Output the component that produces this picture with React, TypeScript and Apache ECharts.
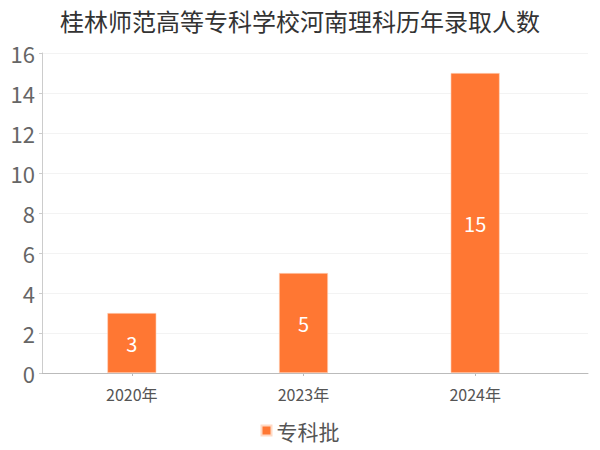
import { useEffect, useRef } from "react";
import * as echarts from "echarts";

const TITLE = "桂林师范高等专科学校河南理科历年录取人数";
const categories = ["2020年", "2023年", "2024年"];
const seriesName = "专科批";
const values = [3, 5, 15];
const yMin = 0;
const yMax = 16;
const yStep = 2;

const ORANGE = "#FF7733";
const FONT = '"Noto Sans CJK SC", "Noto Sans", sans-serif';

export default function App() {
  const ref = useRef<HTMLDivElement>(null);
  useEffect(() => {
    if (!ref.current) return;
    document.body.style.margin = "0";
    const chart = echarts.init(ref.current, undefined, { renderer: "svg" });
    chart.setOption({
      animation: false,
      textStyle: { fontFamily: FONT },
      title: {
        text: TITLE,
        left: "center",
        top: 3,
        textStyle: { fontSize: 24, fontWeight: "normal", color: "#333", fontFamily: FONT },
      },
      legend: {
        bottom: 4,
        left: "center",
        icon: "rect",
        itemWidth: 10,
        itemHeight: 10,
        itemGap: 6,
        textStyle: { fontSize: 21, color: "#555", fontFamily: FONT },
        data: [seriesName],
      },
      // grid 0 carries the frame (y axis, split lines, x axis line); grid 1 carries the bars
      grid: [
        { left: 42, right: 12, top: 53, bottom: 77 },
        { left: 46, right: 39, top: 53, bottom: 77 },
      ],
      xAxis: [
        {
          gridIndex: 0,
          type: "category",
          data: categories,
          offset: 5,
          axisLine: { lineStyle: { color: "#bbb" } },
          axisTick: { show: false },
          axisLabel: { show: false },
        },
        {
          gridIndex: 1,
          type: "category",
          data: categories,
          offset: 5,
          axisLine: { show: false },
          axisTick: { show: true, alignWithLabel: true, length: 3, lineStyle: { color: "#bbb" } },
          axisLabel: { fontSize: 16, color: "#555", margin: 8, fontFamily: FONT },
        },
      ],
      yAxis: [
        {
          gridIndex: 0,
          type: "value",
          min: yMin,
          max: yMax,
          interval: yStep,
          axisLine: { show: true, lineStyle: { color: "#ccc" } },
          axisTick: { show: true, length: 3, lineStyle: { color: "#ccc" } },
          axisLabel: { fontSize: 22, color: "#666", margin: 7, fontFamily: FONT },
          splitLine: { lineStyle: { color: "#f3f3f3" } },
        },
        {
          gridIndex: 1,
          type: "value",
          min: yMin,
          max: yMax,
          interval: yStep,
          show: false,
        },
      ],
      series: [
        {
          name: seriesName,
          type: "bar",
          xAxisIndex: 1,
          yAxisIndex: 1,
          barWidth: 49,
          data: values,
          itemStyle: { color: ORANGE, borderColor: "#ffd9c4", borderWidth: 0.6 },
          label: {
            show: true,
            position: "inside",
            color: "#fff",
            fontSize: 20,
            fontFamily: FONT,
          },
        },
      ],
    });
    return () => chart.dispose();
  }, []);
  return <div ref={ref} style={{ width: 600, height: 450 }} />;
}
